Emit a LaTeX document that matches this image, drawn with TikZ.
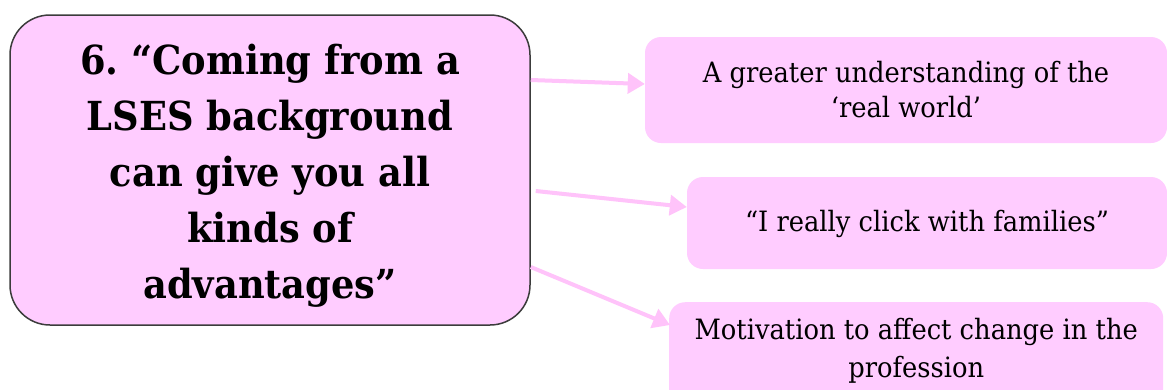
\documentclass[tikz,border=0pt]{standalone}
\usepackage{fontspec}
\setmainfont{DejaVu Serif}[FakeStretch=0.92]
\usetikzlibrary{arrows.meta,calc}
\definecolor{boxpink}{RGB}{255,204,255}
\definecolor{linkpink}{RGB}{255,195,250}
\definecolor{edgegray}{RGB}{60,60,60}
\tikzset{
  mainbox/.style={draw=edgegray, line width=1.5pt, fill=boxpink, rounded corners=40pt,
    minimum width=520pt, minimum height=310pt, inner sep=0pt,
    align=center, font=\fontsize{40}{56}\selectfont\bfseries},
  sidetext/.style={font=\fontsize{28}{35}\selectfont, align=center},
  sidebox/.style={fill=boxpink, rounded corners=16pt, inner sep=0pt, sidetext},
  link/.style={draw=linkpink, line width=4pt,
    -{Triangle[length=17pt,width=20pt]}}
}
\begin{document}
\frenchspacing
\begin{tikzpicture}[x=1pt,y=-1pt]
  \clip (0,0) rectangle (1167,389);
  \fill[white] (0,0) rectangle (1167,389);
  % central statement
  \node[mainbox] (main) at (270,170)
    {\rule{0pt}{42pt}6. “Coming from a\\LSES background\\can give you all\\kinds of\\advantages”};
  % three consequences
  \node[sidebox, minimum width=522pt, minimum height=106pt] (b1) at (906,90)
    {A greater understanding of the\\‘real world’};
  \node[sidebox, minimum width=480pt, minimum height=92pt] (b2) at (927,223)
    {\rule{0pt}{24pt}“I really click with families”};
  \node[sidebox, minimum width=494pt, minimum height=110pt, anchor=north west] (b3)
    at (669,302) {};
  \node[sidetext, font=\fontsize{28}{38}\selectfont, anchor=north] (t3)
    at ($(b3.north)+(0,13)$)
    {Motivation to affect change in the\\profession};
  % connectors
  \draw[link] ($(main.east)+(0,-90)$) -- ($(b1.west)+(0,-6)$);
  \draw[link] ($(main.east)+(5,21)$) -- ($(b2.west)+(0,-16)$);
  \draw[link] ($(main.east)+(0,97)$) -- ($(b3.north west)+(1,23)$);
\end{tikzpicture}
\end{document}
